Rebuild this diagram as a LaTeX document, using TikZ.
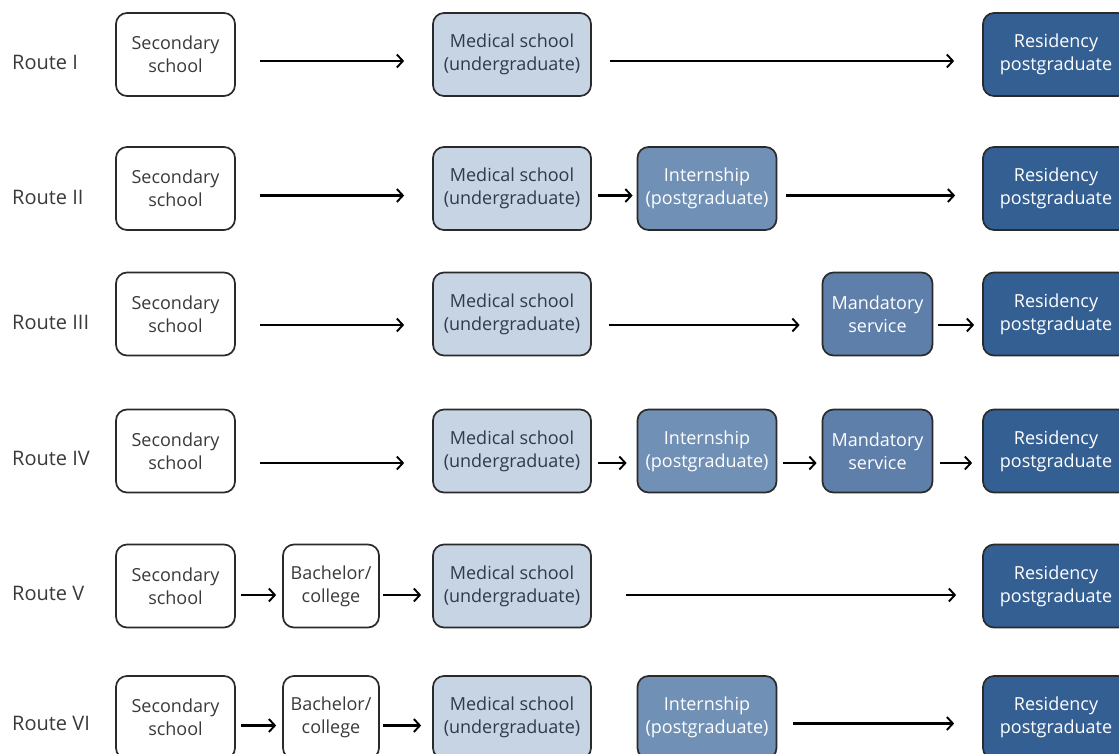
\documentclass[tikz,border=0pt]{standalone}
\usepackage{fontspec}
\setmainfont{Open Sans}
\usetikzlibrary{arrows.meta}
\definecolor{medc}{HTML}{C6D4E4}
\definecolor{intc}{HTML}{7090B5}
\definecolor{mandc}{HTML}{5D7FAA}
\definecolor{resc}{HTML}{345F92}
\definecolor{edgec}{HTML}{2A2A2A}
\definecolor{txt}{HTML}{3A3A3A}
\definecolor{medtxt}{HTML}{2F3A4A}
\begin{document}
\begin{tikzpicture}[x=1pt,y=-1pt,
  box/.style={draw=edgec, line width=1.7pt, rounded corners=11pt, minimum height=83pt,
    inner sep=0pt, align=center, font=\fontsize{18}{23}\selectfont},
  secbox/.style={box, fill=white, text=txt, minimum width=119pt},
  bachbox/.style={box, fill=white, text=txt, minimum width=96pt},
  medbox/.style={box, fill=medc, text=medtxt, minimum width=158pt},
  intbox/.style={box, fill=intc, text=white, minimum width=139pt},
  mandbox/.style={box, fill=mandc, text=white, minimum width=110pt},
  resbox/.style={box, fill=resc, text=white, minimum width=146pt},
  arr/.style={draw=black, line width=2.3pt, -{Straight Barb[length=6pt,width=13pt,line width=1.9pt]}},
  lbl/.style={anchor=west, inner sep=0pt, text=txt, font=\fontsize{20}{23}\selectfont}]
\useasboundingbox (0,0) rectangle (1119,753);
\clip (0,0) rectangle (1119,753);
\fill[white] (0,0) rectangle (1119,753);

% Row 1
\node[lbl] (l1) at (12,62) {Route I};
\node[secbox] (r1s) at (175.5,54.5) {Secondary\\school};
\node[medbox] (r1m) at (512,54.5) {Medical school\\(undergraduate)};
\node[resbox] (r1r) at (1056,54.5) {Residency\\postgraduate};
\draw[arr, shorten <=24pt, shorten >=28pt] ([yshift=-6.5pt]r1s.east) -- ([yshift=-6.5pt]r1m.west);
\draw[arr, shorten <=18pt, shorten >=28pt] ([yshift=-6.5pt]r1m.east) -- ([yshift=-6.5pt]r1r.west);

% Row 2
\node[lbl] (l2) at (12,197) {Route II};
\node[secbox] (r2s) at (175.5,188.5) {Secondary\\school};
\node[medbox] (r2m) at (512,188.5) {Medical school\\(undergraduate)};
\node[intbox] (r2i) at (707,188.5) {Internship\\(postgraduate)};
\node[resbox] (r2r) at (1056,188.5) {Residency\\postgraduate};
\draw[arr, shorten <=24pt, shorten >=28pt] ([yshift=-7pt]r2s.east) -- ([yshift=-7pt]r2m.west);
\draw[arr, shorten <=6pt, shorten >=4pt] ([yshift=-7pt]r2m.east) -- ([yshift=-7pt]r2i.west);
\draw[arr, shorten <=9pt, shorten >=27pt] ([yshift=-7pt]r2i.east) -- ([yshift=-7pt]r2r.west);

% Row 3
\node[lbl] (l3) at (12,322) {Route III};
\node[secbox] (r3s) at (175.5,314) {Secondary\\school};
\node[medbox] (r3m) at (512,314) {Medical school\\(undergraduate)};
\node[mandbox] (r3d) at (877.5,314) {Mandatory\\service};
\node[resbox] (r3r) at (1056,314) {Residency\\postgraduate};
\draw[arr, shorten <=24pt, shorten >=28pt] ([yshift=-11pt]r3s.east) -- ([yshift=-11pt]r3m.west);
\draw[arr, shorten <=17pt, shorten >=22pt] ([yshift=-11pt]r3m.east) -- ([yshift=-11pt]r3d.west);
\draw[arr, shorten <=5pt, shorten >=8pt] ([yshift=-11pt]r3d.east) -- ([yshift=-11pt]r3r.west);

% Row 4
\node[lbl] (l4) at (12,458) {Route IV};
\node[secbox] (r4s) at (175.5,451) {Secondary\\school};
\node[medbox] (r4m) at (512,451) {Medical school\\(undergraduate)};
\node[intbox] (r4i) at (707,451) {Internship\\(postgraduate)};
\node[mandbox] (r4d) at (877.5,451) {Mandatory\\service};
\node[resbox] (r4r) at (1056,451) {Residency\\postgraduate};
\draw[arr, shorten <=24pt, shorten >=28pt] ([yshift=-12pt]r4s.east) -- ([yshift=-12pt]r4m.west);
\draw[arr, shorten <=6pt, shorten >=10pt] ([yshift=-12pt]r4m.east) -- ([yshift=-12pt]r4i.west);
\draw[arr, shorten <=6pt, shorten >=5pt] ([yshift=-12pt]r4i.east) -- ([yshift=-12pt]r4d.west);
\draw[arr, shorten <=7pt, shorten >=10pt] ([yshift=-12pt]r4d.east) -- ([yshift=-12pt]r4r.west);

% Row 5
\node[lbl] (l5) at (12,593) {Route V};
\node[secbox] (r5s) at (175.5,586) {Secondary\\school};
\node[bachbox] (r5b) at (331,586) {Bachelor/\\college};
\node[medbox] (r5m) at (512,586) {Medical school\\(undergraduate)};
\node[resbox] (r5r) at (1056,586) {Residency\\postgraduate};
\draw[arr, shorten <=5pt, shorten >=6pt] ([yshift=-9pt]r5s.east) -- ([yshift=-9pt]r5b.west);
\draw[arr, shorten <=3pt, shorten >=11pt] ([yshift=-9pt]r5b.east) -- ([yshift=-9pt]r5m.west);
\draw[arr, shorten <=34pt, shorten >=26pt] ([yshift=-9pt]r5m.east) -- ([yshift=-9pt]r5r.west);

% Row 6
\node[lbl] (l6) at (12,723) {Route VI};
\node[secbox] (r6s) at (175.5,717.5) {Secondary\\school};
\node[bachbox] (r6b) at (331,717.5) {Bachelor/\\college};
\node[medbox] (r6m) at (512,717.5) {Medical school\\(undergraduate)};
\node[intbox] (r6i) at (707,717.5) {Internship\\(postgraduate)};
\node[resbox] (r6r) at (1056,717.5) {Residency\\postgraduate};
\draw[arr, shorten <=5pt, shorten >=6pt] ([yshift=-8pt]r6s.east) -- ([yshift=-8pt]r6b.west);
\draw[arr, shorten <=3pt, shorten >=11pt] ([yshift=-8pt]r6b.east) -- ([yshift=-8pt]r6m.west);
\draw[arr, shorten <=16pt, shorten >=28pt] ([yshift=-6pt]r6i.east) -- ([yshift=-6pt]r6r.west);
\end{tikzpicture}
\end{document}
